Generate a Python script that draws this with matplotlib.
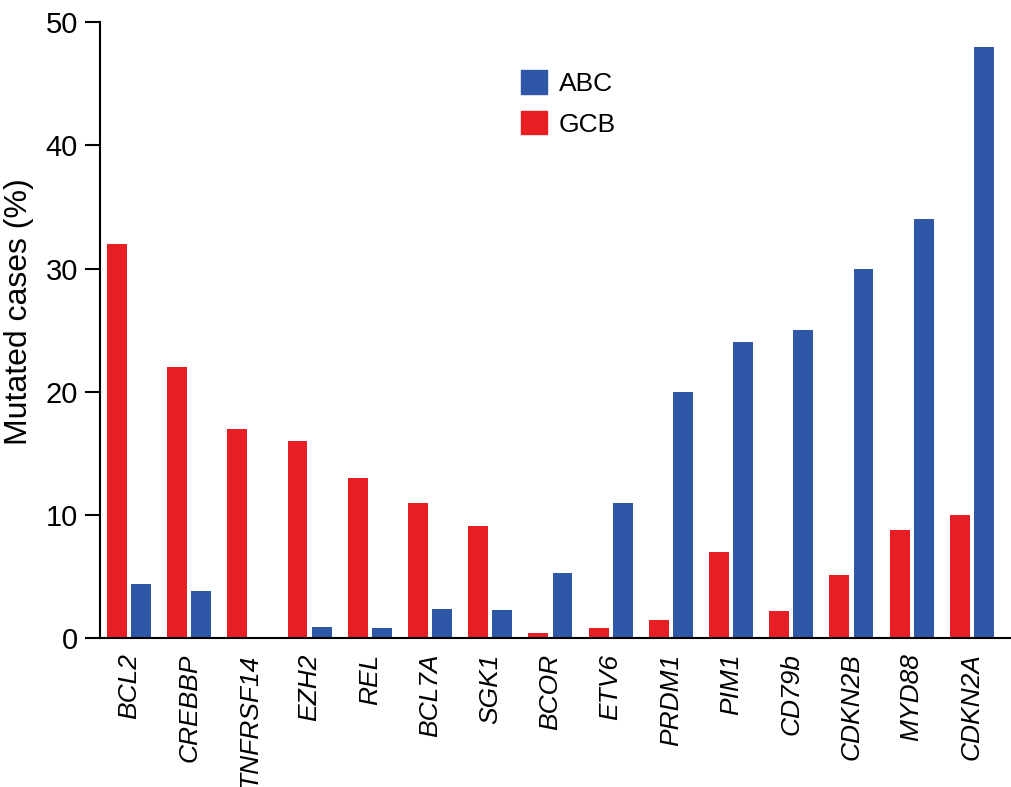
import matplotlib
matplotlib.use("Agg")
import matplotlib.pyplot as plt
from matplotlib.patches import Patch
import numpy as np

genes = ["BCL2", "CREBBP", "TNFRSF14", "EZH2", "REL", "BCL7A", "SGK1", "BCOR",
         "ETV6", "PRDM1", "PIM1", "CD79b", "CDKN2B", "MYD88", "CDKN2A"]
gcb = [32, 22, 17, 16, 13, 11, 9.1, 0.4, 0.8, 1.5, 7, 2.2, 5.1, 8.8, 10]
abc = [4.4, 3.8, 0, 0.9, 0.8, 2.4, 2.3, 5.3, 11, 20, 24, 25, 30, 34, 48]

red = "#E81E25"
blue = "#2F57A8"

plt.rcParams["font.family"] = ["Liberation Sans", "DejaVu Sans"]

fig = plt.figure(figsize=(10.11, 7.87), dpi=100)
ax = fig.add_axes([0.099, 0.189, 0.901, 0.783])

x = np.arange(len(genes))
w = 0.33
ax.bar(x - 0.2, gcb, width=w, color=red, zorder=2)
ax.bar(x + 0.2, abc, width=w, color=blue, zorder=2)

ax.set_xlim(-0.48, 14.65)
ax.set_ylim(0, 50)
ax.set_yticks([0, 10, 20, 30, 40, 50])
ax.tick_params(axis="y", labelsize=21, length=11, width=1.5, direction="out", pad=5)
ax.set_xticks(x)
ax.set_xticklabels(genes, rotation=90, fontsize=19, fontstyle="italic")
ax.tick_params(axis="x", length=0, pad=11)

for s in ["top", "right"]:
    ax.spines[s].set_visible(False)
ax.spines["left"].set_linewidth(1.5)
ax.spines["bottom"].set_linewidth(1.5)

ax.set_ylabel("Mutated cases (%)", fontsize=23)
ax.yaxis.set_label_coords(-0.073, 0.53)

handles = [Patch(color=blue, label="ABC"), Patch(color=red, label="GCB")]
ax.legend(handles=handles, loc="upper left", bbox_to_anchor=(0.436, 0.96),
          frameon=False, fontsize=19, handlelength=1.0, handleheight=1.0,
          handletextpad=0.42, labelspacing=0.55)

fig.savefig("out.png", dpi=100)
